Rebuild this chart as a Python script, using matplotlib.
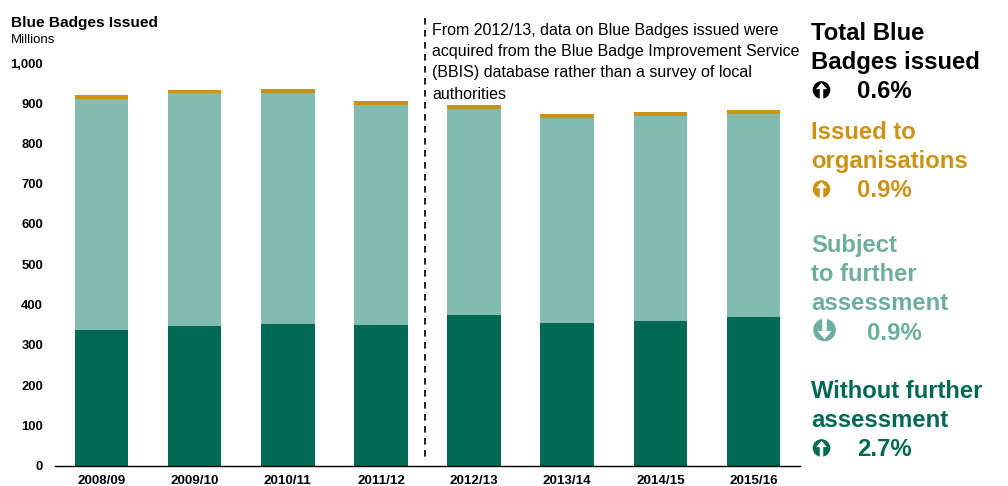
import matplotlib
matplotlib.use("Agg")

import matplotlib.pyplot as plt
import numpy as np
from matplotlib.patches import Circle, Polygon

plt.rcParams["font.family"] = ["Liberation Sans", "DejaVu Sans"]

YEARS = ["2008/09", "2009/10", "2010/11", "2011/12",
         "2012/13", "2013/14", "2014/15", "2015/16"]
WITHOUT_FURTHER = [336, 346, 352, 349, 373, 355, 359, 368]
SUBJECT_TO_FURTHER = [574, 579, 573, 546, 513, 508, 510, 506]
ORGANISATIONS = [10, 9, 10, 10, 9, 10, 9, 9]
Y_TICKS = [0, 100, 200, 300, 400, 500, 600, 700, 800, 900, 1000]

DARK = "#006853"
TEAL = "#82BCB0"
GOLD = "#CC9214"
TEAL_TEXT = "#6DAE9F"

W, H = 1008, 486

fig = plt.figure(figsize=(W / 100, H / 100), dpi=100)
ax = fig.add_axes([55 / W, 1 - 465.5 / H, 745 / W, 402.5 / H])

x = np.arange(len(YEARS))
without = np.array(WITHOUT_FURTHER)
subject = np.array(SUBJECT_TO_FURTHER)
orgs = np.array(ORGANISATIONS)
bar_w = 0.575
ax.bar(x, without, bar_w, color=DARK)
ax.bar(x, subject, bar_w, bottom=without, color=TEAL)
ax.bar(x, orgs, bar_w, bottom=without + subject, color=GOLD)

ax.set_xlim(-0.5, 7.5)
ax.set_ylim(0, 1000)
ax.set_xticks(x, YEARS, fontsize=9.6, fontweight="bold")
ax.set_yticks(Y_TICKS, [f"{v:,}" for v in Y_TICKS], fontsize=9.4, fontweight="bold")
ax.tick_params(axis="both", length=0)
ax.tick_params(axis="x", pad=7)
ax.tick_params(axis="y", pad=8.6)
for side in ["top", "right", "left"]:
    ax.spines[side].set_visible(False)
ax.spines["bottom"].set_linewidth(1.0)

# overlay in pixel coordinates for the side panel, notes and arrows
ov = fig.add_axes([0, 0, 1, 1])
ov.set_xlim(0, W)
ov.set_ylim(H, 0)
ov.axis("off")

# break in the series when the data source changed
ov.plot([425, 425], [18, 461], color="black", lw=1.2, dashes=(4, 3.2))

ov.text(11, 23, "Blue Badges Issued", fontsize=11.1, fontweight="bold", va="center")
ov.text(11, 40, "Millions", fontsize=9.5, va="center")

NOTE = ["From 2012/13, data on Blue Badges issued were",
        "acquired from the Blue Badge Improvement Service",
        "(BBIS) database rather than a survey of local",
        "authorities"]
for i, line in enumerate(NOTE):
    ov.text(432, 35 + i * 21.2, line, fontsize=11.5, va="baseline")


def arrow_icon(cx, cy, r, color, up=True):
    s = -1 if up else 1
    ov.add_patch(Circle((cx, cy), r, color=color, lw=0))
    base = cy + s * 0.1 * r
    pts = [(cx - 0.62 * r, base), (cx, cy + s * 0.82 * r),
           (cx + 0.62 * r, base), (cx + 0.2 * r, base),
           (cx + 0.2 * r, cy - s * 1.1 * r), (cx - 0.2 * r, cy - s * 1.1 * r),
           (cx - 0.2 * r, base)]
    ov.add_patch(Polygon(pts, closed=True, color="white", lw=0))


PANEL = [
    (["Total Blue", "Badges issued"], [33, 62], "black", 857, 91, "0.6%", 821.5, True, 8.8),
    (["Issued to", "organisations"], [132, 161], GOLD, 857, 190, "0.9%", 821.5, True, 8.8),
    (["Subject", "to further", "assessment"], [245, 274, 303], TEAL_TEXT, 867, 333, "0.9%", 824.5, False, 11.3),
    (["Without further", "assessment"], [391, 420], DARK, 857, 449, "2.7%", 821.5, True, 8.8),
]
for lines, ys, col, px, py, pct, ix, up, r in PANEL:
    for line, y in zip(lines, ys):
        ov.text(811, y, line, fontsize=17.2, fontweight="bold", color=col, va="center")
    ov.text(px, py, pct, fontsize=17.2, fontweight="bold", color=col, va="center")
    arrow_icon(ix, py - 1 if up else py - 3, r, col, up)

fig.savefig("out.png", dpi=100)
